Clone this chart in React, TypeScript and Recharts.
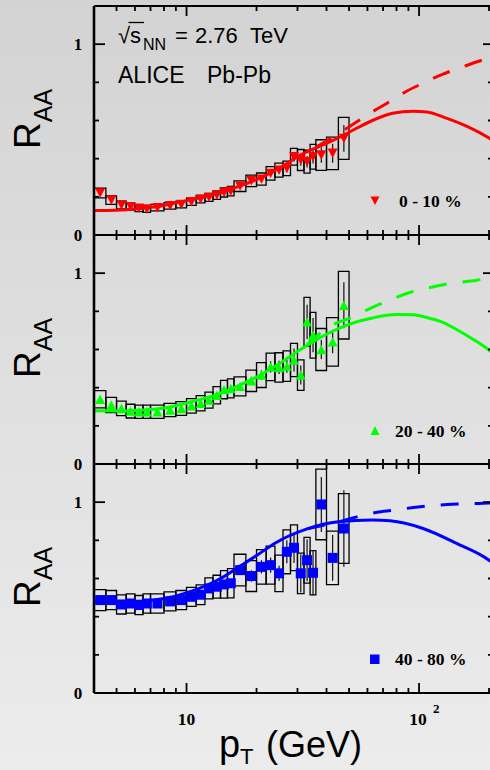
import React from 'react';
import { ComposedChart, XAxis, YAxis, Scatter, Line, ErrorBar, ReferenceArea } from 'recharts';

// ---------- data ----------
const PT = [4.25, 4.75, 5.25, 5.75, 6.25, 6.75, 7.5, 8.5, 9.5, 10.5, 11.5, 12.5, 13.5, 14.5, 15.5, 17, 19, 21, 23, 25, 27, 29, 31, 33, 35, 38, 42.5, 47.5];
const BIN_LO = [4, 4.5, 5, 5.5, 6, 6.5, 7, 8, 9, 10, 11, 12, 13, 14, 15, 16, 18, 20, 22, 24, 26, 28, 30, 32, 34, 36, 40, 45];
const BIN_HI = [4.5, 5, 5.5, 6, 6.5, 7, 8, 9, 10, 11, 12, 13, 14, 15, 16, 18, 20, 22, 24, 26, 28, 30, 32, 34, 36, 40, 45, 50];

const RAA_0_10 = [0.22, 0.183, 0.157, 0.148, 0.14, 0.136, 0.143, 0.153, 0.16, 0.174, 0.188, 0.197, 0.209, 0.223, 0.23, 0.256, 0.284, 0.293, 0.323, 0.34, 0.349, 0.41, 0.393, 0.384, 0.41, 0.419, 0.428, 0.506];
const SYS_0_10 = [0.025, 0.022, 0.02, 0.018, 0.018, 0.017, 0.017, 0.017, 0.018, 0.019, 0.02, 0.021, 0.022, 0.024, 0.025, 0.028, 0.03, 0.032, 0.035, 0.037, 0.038, 0.044, 0.055, 0.06, 0.065, 0.08, 0.085, 0.11];
const STAT_0_10 = [0.003, 0.003, 0.003, 0.003, 0.003, 0.003, 0.003, 0.003, 0.004, 0.004, 0.005, 0.005, 0.006, 0.007, 0.008, 0.009, 0.01, 0.012, 0.015, 0.018, 0.02, 0.025, 0.03, 0.03, 0.035, 0.04, 0.05, 0.07];

const RAA_20_40 = [0.339, 0.309, 0.291, 0.277, 0.274, 0.274, 0.274, 0.283, 0.291, 0.305, 0.318, 0.335, 0.36, 0.39, 0.396, 0.407, 0.436, 0.466, 0.509, 0.506, 0.513, 0.545, 0.466, 0.745, 0.675, 0.6, 0.64, 0.832];
const SYS_20_40 = [0.045, 0.04, 0.038, 0.036, 0.035, 0.035, 0.035, 0.035, 0.036, 0.038, 0.04, 0.042, 0.045, 0.048, 0.05, 0.05, 0.056, 0.065, 0.072, 0.077, 0.08, 0.087, 0.08, 0.128, 0.12, 0.11, 0.127, 0.177];
const STAT_20_40 = [0.005, 0.005, 0.005, 0.005, 0.005, 0.005, 0.005, 0.006, 0.007, 0.008, 0.009, 0.01, 0.011, 0.013, 0.015, 0.018, 0.02, 0.025, 0.03, 0.035, 0.035, 0.06, 0.05, 0.09, 0.09, 0.05, 0.06, 0.12];

const RAA_40_80 = [0.487, 0.487, 0.464, 0.469, 0.461, 0.469, 0.469, 0.48, 0.487, 0.504, 0.515, 0.548, 0.557, 0.569, 0.575, 0.644, 0.613, 0.661, 0.67, 0.627, 0.74, 0.761, 0.627, 0.696, 0.63, 0.988, 0.708, 0.862];
const SYS_40_80 = [0.055, 0.05, 0.05, 0.05, 0.05, 0.05, 0.05, 0.05, 0.05, 0.05, 0.052, 0.055, 0.06, 0.072, 0.077, 0.083, 0.081, 0.09, 0.1, 0.096, 0.115, 0.12, 0.106, 0.12, 0.116, 0.185, 0.14, 0.183];
const STAT_40_80 = [0.005, 0.005, 0.005, 0.005, 0.005, 0.005, 0.006, 0.007, 0.008, 0.009, 0.01, 0.012, 0.014, 0.016, 0.018, 0.02, 0.03, 0.035, 0.04, 0.04, 0.06, 0.08, 0.1, 0.11, 0.118, 0.144, 0.12, 0.2];

// model curves
const RED_SOLID_PT = [4, 5, 6, 7, 8, 10, 12, 14, 17, 20, 25, 31, 40, 46, 55, 63, 77, 94, 108, 131, 160, 200, 208];
const RED_SOLID_V = [0.128, 0.13, 0.136, 0.145, 0.155, 0.18, 0.2, 0.222, 0.258, 0.29, 0.35, 0.42, 0.48, 0.515, 0.565, 0.6, 0.638, 0.649, 0.645, 0.612, 0.57, 0.508, 0.495];
const RED_DASH_PT = [36, 41, 54, 61, 75, 88, 106, 126, 154, 182, 200, 208];
const RED_DASH_V = [0.46, 0.5, 0.593, 0.635, 0.7, 0.752, 0.8, 0.842, 0.881, 0.912, 0.927, 0.933];

const GREEN_SOLID_PT = [4, 5, 6, 7, 8, 10, 12, 14, 17, 20, 25, 30, 35, 40, 46, 63, 80, 95, 106, 125, 145, 170, 200, 208];
const GREEN_SOLID_V = [0.279, 0.278, 0.28, 0.285, 0.293, 0.32, 0.345, 0.37, 0.415, 0.455, 0.525, 0.59, 0.64, 0.68, 0.715, 0.765, 0.783, 0.782, 0.77, 0.745, 0.705, 0.655, 0.597, 0.58];
const GREEN_DASH_PT = [33, 36, 41, 52, 62, 75, 89, 108, 130, 177, 200, 208];
const GREEN_DASH_V = [0.625, 0.667, 0.719, 0.771, 0.817, 0.859, 0.895, 0.921, 0.942, 0.963, 0.974, 0.977];

const BLUE_SOLID_PT = [4, 5, 6, 7, 8, 10, 12, 14, 17, 20, 24, 33, 45, 63, 75, 104, 145, 200, 208];
const BLUE_SOLID_V = [0.478, 0.478, 0.48, 0.485, 0.495, 0.525, 0.56, 0.6, 0.665, 0.72, 0.785, 0.86, 0.897, 0.906, 0.902, 0.862, 0.784, 0.696, 0.68];
const BLUE_DASH_PT = [33, 45, 54, 67, 81, 99, 120, 146, 200, 208];
const BLUE_DASH_V = [0.86, 0.897, 0.923, 0.949, 0.961, 0.975, 0.984, 0.99, 0.996, 0.997];

// axes
const X_DOMAIN: [number, number] = [4, 208];
const Y_DOMAIN: [number, number] = [0, 1.2];
const X_TICKS = [5, 6, 7, 8, 9, 10, 20, 30, 40, 50, 60, 70, 80, 90, 100, 200];
const X_MAJOR = [10, 100];
const Y_TICKS = [0, 0.2, 0.4, 0.6, 0.8, 1];
const Y_MAJOR = [0, 1];
const CENTRALITY = ['0 - 10 %', '20 - 40 %', '40 - 80 %'];

const SANS = '"Liberation Sans", Arial, Helvetica, sans-serif';
const SERIF = '"Liberation Serif", "Times New Roman", serif';
const TICK_W = 1.8;

const toPoints = (vals: number[], stat: number[]) => PT.map((pt, i) => ({ pt, v: vals[i], stat: stat[i] }));
const toCurve = (pts: number[], vals: number[]) => pts.map((pt, i) => ({ pt, v: vals[i] }));

const triDown = (color: string) => (p: any) => {
  const { cx, cy } = p;
  return <path d={`M${cx - 5},${cy - 4.7}L${cx + 5},${cy - 4.7}L${cx},${cy + 4.7}Z`} fill={color} />;
};
const triUp = (color: string) => (p: any) => {
  const { cx, cy } = p;
  return <path d={`M${cx - 5},${cy + 4.7}L${cx + 5},${cy + 4.7}L${cx},${cy - 4.7}Z`} fill={color} />;
};
const square = (color: string) => (p: any) => {
  const { cx, cy } = p;
  return <rect x={cx - 5} y={cy - 5} width={10} height={10} fill={color} />;
};

const bottomTick = (showLabels: boolean) => (props: any) => {
  const { x, y, payload } = props;
  const major = X_MAJOR.includes(payload.value);
  const len = major ? 10 : 5;
  return (
    <g>
      <line x1={x} y1={y} x2={x} y2={y - len} stroke="#000" strokeWidth={TICK_W} />
      {showLabels && payload.value === 10 && (
        <text x={x} y={y + 32} textAnchor="middle" fontFamily={SERIF} fontWeight="bold" fontSize={17.5} fill="#000">10</text>
      )}
      {showLabels && payload.value === 100 && (
        <g>
          <text x={x - 1} y={y + 32} textAnchor="middle" fontFamily={SERIF} fontWeight="bold" fontSize={17.5} fill="#000">10</text>
          <text x={x + 14} y={y + 20} fontFamily={SERIF} fontWeight="bold" fontSize={13} fill="#000">2</text>
        </g>
      )}
    </g>
  );
};
const topTick = (props: any) => {
  const { x, y, payload } = props;
  const len = X_MAJOR.includes(payload.value) ? 10 : 5;
  return <line x1={x} y1={y} x2={x} y2={y + len} stroke="#000" strokeWidth={TICK_W} />;
};
const leftTick = (props: any) => {
  const { x, y, payload } = props;
  const major = Y_MAJOR.includes(payload.value);
  const len = major ? 11 : 5;
  return (
    <g>
      <line x1={x} y1={y} x2={x + len} y2={y} stroke="#000" strokeWidth={TICK_W} />
      {major && (
        <text x={x - 16} y={y + 6} textAnchor="middle" fontFamily={SERIF} fontWeight="bold" fontSize={17} fill="#000">
          {payload.value}
        </text>
      )}
    </g>
  );
};
const rightTick = (props: any) => {
  const { x, y, payload } = props;
  const len = Y_MAJOR.includes(payload.value) ? 10 : 5;
  return <line x1={x} y1={y} x2={x - len} y2={y} stroke="#000" strokeWidth={TICK_W} />;
};

type PanelProps = {
  top: number;
  bottomHeight: number;
  showLabels: boolean;
  vals: number[];
  sys: number[];
  stat: number[];
  solid: { pt: number; v: number }[];
  dash: { pt: number; v: number }[];
  color: string;
  shape: (p: any) => any;
};

function Panel({ top, bottomHeight, showLabels, vals, sys, stat, solid, dash, color, shape }: PanelProps) {
  const pts = toPoints(vals, stat);
  return (
    <div style={{ position: 'absolute', left: 0, top }}>
      <ComposedChart width={500} height={6 + 229 + bottomHeight} margin={{ top: 0, right: 0, bottom: 0, left: 0 }}
        style={{ overflow: 'visible' }}>
        <XAxis xAxisId="b" dataKey="pt" type="number" scale="log" domain={X_DOMAIN} allowDataOverflow ticks={X_TICKS}
          interval={0} tickSize={0} tickMargin={0} tickLine={false} height={bottomHeight}
          axisLine={{ stroke: '#000', strokeWidth: 2 }} tick={bottomTick(showLabels)} />
        <XAxis xAxisId="t" orientation="top" dataKey="pt" type="number" scale="log" domain={X_DOMAIN} allowDataOverflow ticks={X_TICKS}
          interval={0} tickSize={0} tickMargin={0} tickLine={false} height={6}
          axisLine={{ stroke: '#000', strokeWidth: 2 }} tick={topTick} />
        <YAxis yAxisId="l" type="number" domain={Y_DOMAIN} allowDataOverflow ticks={Y_TICKS} interval={0}
          tickSize={0} tickMargin={0} tickLine={false} width={94}
          axisLine={{ stroke: '#000', strokeWidth: 2.6 }} tick={leftTick} />
        <YAxis yAxisId="r" orientation="right" type="number" domain={Y_DOMAIN} allowDataOverflow ticks={Y_TICKS} interval={0}
          tickSize={0} tickMargin={0} tickLine={false} width={7}
          axisLine={{ stroke: '#000', strokeWidth: 2.6 }} tick={rightTick} />
        {PT.map((pt, i) => (
          <ReferenceArea key={`box${i}`} xAxisId="b" yAxisId="l" x1={BIN_LO[i]} x2={BIN_HI[i]}
            y1={vals[i] - sys[i]} y2={vals[i] + sys[i]} fill="none" fillOpacity={0}
            stroke="#000" strokeOpacity={1} strokeWidth={1.3} ifOverflow="hidden" />
        ))}
        <Scatter xAxisId="b" yAxisId="l" data={pts} dataKey="v" shape={shape} isAnimationActive={false}>
          <ErrorBar dataKey="stat" direction="y" width={0} stroke="#111" strokeWidth={1.2} isAnimationActive={false} />
        </Scatter>
        <Line xAxisId="b" yAxisId="l" data={dash} dataKey="v" type="monotone" stroke={color} strokeWidth={3}
          strokeDasharray="18 16" dot={false} activeDot={false} isAnimationActive={false} />
        <Line xAxisId="b" yAxisId="l" data={solid} dataKey="v" type="monotone" stroke={color} strokeWidth={3}
          dot={false} activeDot={false} isAnimationActive={false} />
      </ComposedChart>
    </div>
  );
}

function RLabel({ y }: { y: number }) {
  return (
    <text transform={`translate(40,${y}) rotate(-90)`} fontFamily={SANS} fontSize={37} fill="#000">
      R<tspan fontSize={25} dy={12}>AA</tspan>
    </text>
  );
}

export default function App() {
  return (
    <div style={{
      position: 'fixed', left: 0, top: 0, width: 490, height: 770, overflow: 'hidden',
      background: 'linear-gradient(to bottom, #d3d3d3, #ececec)',
    }}>
      <Panel top={0} bottomHeight={14} showLabels={false} vals={RAA_0_10} sys={SYS_0_10} stat={STAT_0_10}
        solid={toCurve(RED_SOLID_PT, RED_SOLID_V)} dash={toCurve(RED_DASH_PT, RED_DASH_V)} color="#ff0000" shape={triDown('#ff0000')} />
      <Panel top={229} bottomHeight={14} showLabels={false} vals={RAA_20_40} sys={SYS_20_40} stat={STAT_20_40}
        solid={toCurve(GREEN_SOLID_PT, GREEN_SOLID_V)} dash={toCurve(GREEN_DASH_PT, GREEN_DASH_V)} color="#00ff00" shape={triUp('#00ff00')} />
      <Panel top={458} bottomHeight={77} showLabels={true} vals={RAA_40_80} sys={SYS_40_80} stat={STAT_40_80}
        solid={toCurve(BLUE_SOLID_PT, BLUE_SOLID_V)} dash={toCurve(BLUE_DASH_PT, BLUE_DASH_V)} color="#0000ff" shape={square('#0000ff')} />
      <svg width={490} height={770} style={{ position: 'absolute', left: 0, top: 0, pointerEvents: 'none' }}>
        {/* energy annotation */}
        <text x={118} y={43} fontFamily={SANS} fontSize={22} fill="#000">√</text>
        <line x1={128.5} y1={22.5} x2={144} y2={22.5} stroke="#000" strokeWidth={1.3} />
        <text x={130} y={43} fontFamily={SANS} fontSize={22} fill="#000">s</text>
        <text x={143} y={50} fontFamily={SANS} fontSize={16} fill="#000">NN</text>
        <text x={175} y={43} fontFamily={SANS} fontSize={22} fill="#000">=</text>
        <text x={195} y={43} fontFamily={SANS} fontSize={22} fill="#000">2.76</text>
        <text x={250} y={43} fontFamily={SANS} fontSize={22} fill="#000">TeV</text>
        <text x={118} y={83} fontFamily={SANS} fontSize={23} fill="#000">ALICE</text>
        <text x={207} y={83} fontFamily={SANS} fontSize={23} fill="#000">Pb-Pb</text>

        {/* y titles */}
        <RLabel y={149} />
        <RLabel y={378} />
        <RLabel y={607} />

        {/* legends */}
        <path d="M370.5,196.5L379.5,196.5L375,205Z" fill="#ff0000" />
        <text x={399} y={207} fontFamily={SERIF} fontWeight="bold" fontSize={17.5} fill="#000">{CENTRALITY[0]}</text>
        <path d="M370.5,435L379.5,435L375,426Z" fill="#00ff00" />
        <text x={395} y={437} fontFamily={SERIF} fontWeight="bold" fontSize={17.5} fill="#000">{CENTRALITY[1]}</text>
        <rect x={370} y={654.5} width={9.5} height={9.5} fill="#0000ff" />
        <text x={395} y={665} fontFamily={SERIF} fontWeight="bold" fontSize={17.5} fill="#000">{CENTRALITY[2]}</text>

        {/* x title */}
        <text x={219} y={757} fontFamily={SANS} fontSize={38} fill="#000">p</text>
        <text x={240} y={764} fontFamily={SANS} fontSize={22} fill="#000">T</text>
        <text x={266} y={757} fontFamily={SANS} fontSize={36} fill="#000">(GeV)</text>
      </svg>
    </div>
  );
}
